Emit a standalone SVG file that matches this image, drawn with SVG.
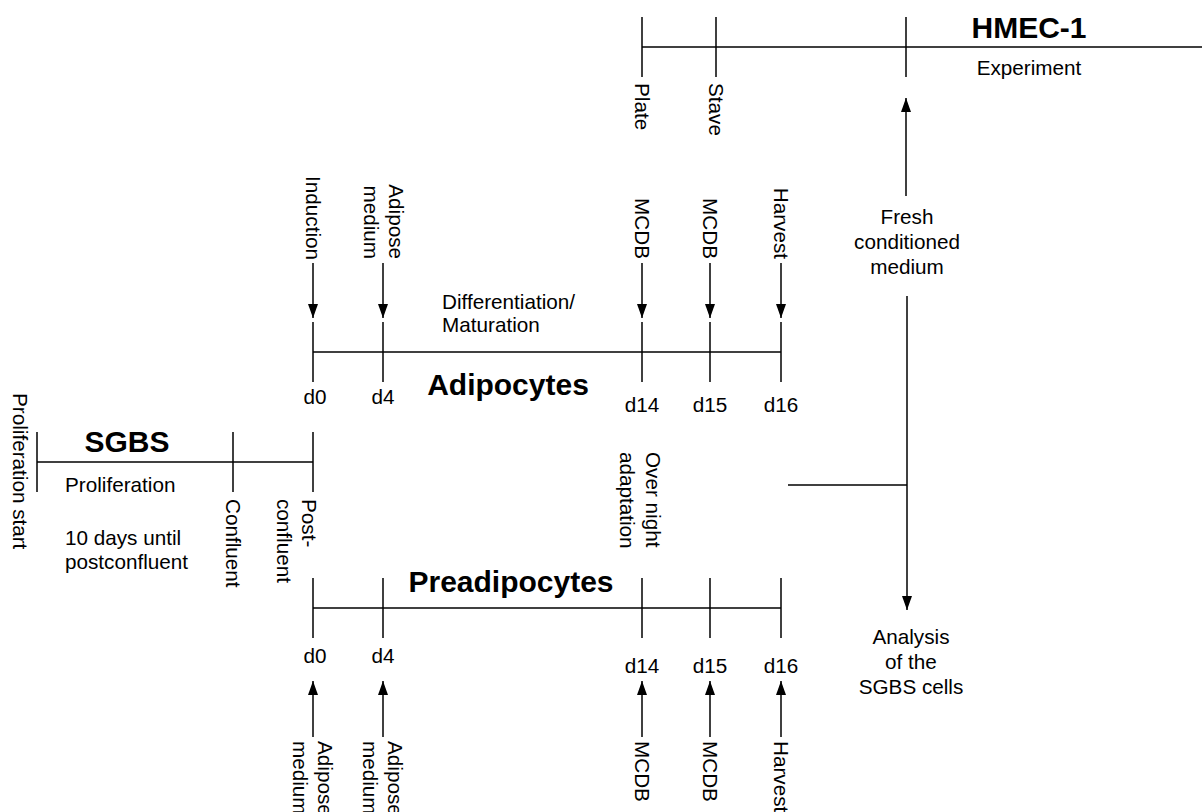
<svg xmlns="http://www.w3.org/2000/svg" width="1202" height="812" viewBox="0 0 1202 812">
<style>
  .ln { stroke:#000; stroke-width:1.5; fill:none; }
  .t { font-family:"Liberation Sans", Arial, sans-serif; font-size:20.7px; fill:#000; }
  .b { font-family:"Liberation Sans", Arial, sans-serif; font-size:30px; font-weight:bold; fill:#000; }
  .c { text-anchor:middle; }
  .e { text-anchor:end; }
</style>
<defs>
  <marker id="ah" viewBox="0 0 14 10" refX="14" refY="5" markerWidth="14" markerHeight="10" orient="auto" markerUnits="userSpaceOnUse">
    <path d="M0,0 L14,5 L0,10 z" fill="#000"/>
  </marker>
</defs>
<rect width="1202" height="812" fill="#fff"/>

<!-- HMEC-1 timeline -->
<g id="hmec">
  <line class="ln" x1="642" y1="47" x2="1202" y2="47"/>
  <line class="ln" x1="642" y1="17" x2="642" y2="77"/>
  <line class="ln" x1="716" y1="17" x2="716" y2="77"/>
  <line class="ln" x1="906" y1="17" x2="906" y2="77"/>
  <text class="b c" x="1029" y="38">HMEC-1</text>
  <text class="t c" x="1029" y="75">Experiment</text>
  <text class="t" transform="translate(635,83) rotate(90)">Plate</text>
  <text class="t" transform="translate(709,83) rotate(90)">Stave</text>
</g>

<!-- SGBS timeline -->
<g id="sgbs">
  <line class="ln" x1="37" y1="462" x2="313" y2="462"/>
  <line class="ln" x1="37" y1="432" x2="37" y2="492"/>
  <line class="ln" x1="233" y1="432" x2="233" y2="492"/>
  <line class="ln" x1="313" y1="432" x2="313" y2="492"/>
  <text class="b c" x="127" y="452">SGBS</text>
  <text class="t" x="65" y="492">Proliferation</text>
  <text class="t" x="65" y="545">10 days until</text>
  <text class="t" x="65" y="569">postconfluent</text>
  <text class="t" transform="translate(13,393) rotate(90)">Proliferation start</text>
  <text class="t" transform="translate(226,499) rotate(90)">Confluent</text>
  <text class="t" transform="translate(302,499) rotate(90)">Post-</text>
  <text class="t" transform="translate(277,499) rotate(90)">confluent</text>
</g>

<!-- Adipocytes timeline -->
<g id="adipocytes">
  <line class="ln" x1="313" y1="352" x2="781" y2="352"/>
  <line class="ln" x1="313" y1="322" x2="313" y2="382"/>
  <line class="ln" x1="383" y1="322" x2="383" y2="382"/>
  <line class="ln" x1="642" y1="322" x2="642" y2="382"/>
  <line class="ln" x1="710" y1="322" x2="710" y2="382"/>
  <line class="ln" x1="781" y1="322" x2="781" y2="382"/>
  <text class="b c" x="508" y="395">Adipocytes</text>
  <text class="t" x="442" y="309">Differentiation/</text>
  <text class="t" x="442" y="332">Maturation</text>
  <text class="t c" x="315" y="404">d0</text>
  <text class="t c" x="383" y="404">d4</text>
  <text class="t c" x="642" y="412">d14</text>
  <text class="t c" x="710" y="412">d15</text>
  <text class="t c" x="781" y="412">d16</text>
  <text class="t e" transform="translate(306,260) rotate(90)">Induction</text>
  <text class="t e" transform="translate(389,259) rotate(90)">Adipose</text>
  <text class="t e" transform="translate(364,259) rotate(90)">medium</text>
  <text class="t e" transform="translate(635,259) rotate(90)">MCDB</text>
  <text class="t e" transform="translate(703,259) rotate(90)">MCDB</text>
  <text class="t e" transform="translate(774,259) rotate(90)">Harvest</text>
</g>

<!-- Preadipocytes timeline -->
<g id="preadipocytes">
  <line class="ln" x1="313" y1="608" x2="781" y2="608"/>
  <line class="ln" x1="313" y1="578" x2="313" y2="638"/>
  <line class="ln" x1="383" y1="578" x2="383" y2="638"/>
  <line class="ln" x1="642" y1="578" x2="642" y2="638"/>
  <line class="ln" x1="710" y1="578" x2="710" y2="638"/>
  <line class="ln" x1="781" y1="578" x2="781" y2="638"/>
  <text class="b c" x="511" y="592">Preadipocytes</text>
  <text class="t c" x="315" y="663">d0</text>
  <text class="t c" x="383" y="663">d4</text>
  <text class="t c" x="642" y="673">d14</text>
  <text class="t c" x="710" y="673">d15</text>
  <text class="t c" x="781" y="673">d16</text>
  <text class="t" transform="translate(318,741) rotate(90)">Adipose</text>
  <text class="t" transform="translate(293,741) rotate(90)">medium</text>
  <text class="t" transform="translate(388,741) rotate(90)">Adipose</text>
  <text class="t" transform="translate(363,741) rotate(90)">medium</text>
  <text class="t" transform="translate(635,741) rotate(90)">MCDB</text>
  <text class="t" transform="translate(703,741) rotate(90)">MCDB</text>
  <text class="t" transform="translate(774,741) rotate(90)">Harvest</text>
</g>

<!-- Side labels -->
<g id="adaptation">
  <text class="t" transform="translate(646,452) rotate(90)">Over night</text>
  <text class="t" transform="translate(620,452) rotate(90)">adaptation</text>
</g>
<g id="fresh-medium">
  <text class="t c" x="907" y="224">Fresh</text>
  <text class="t c" x="907" y="249">conditioned</text>
  <text class="t c" x="907" y="274">medium</text>
</g>
<g id="analysis">
  <text class="t c" x="911" y="644">Analysis</text>
  <text class="t c" x="911" y="669">of the</text>
  <text class="t c" x="911" y="694">SGBS cells</text>
</g>

<!-- Connectors -->
<g id="connectors">
  <line class="ln" x1="313" y1="263" x2="313" y2="318" marker-end="url(#ah)"/>
  <line class="ln" x1="383" y1="263" x2="383" y2="318" marker-end="url(#ah)"/>
  <line class="ln" x1="642" y1="263" x2="642" y2="318" marker-end="url(#ah)"/>
  <line class="ln" x1="710" y1="263" x2="710" y2="318" marker-end="url(#ah)"/>
  <line class="ln" x1="781" y1="263" x2="781" y2="318" marker-end="url(#ah)"/>
  <line class="ln" x1="313" y1="737" x2="313" y2="681" marker-end="url(#ah)"/>
  <line class="ln" x1="383" y1="737" x2="383" y2="681" marker-end="url(#ah)"/>
  <line class="ln" x1="642" y1="737" x2="642" y2="681" marker-end="url(#ah)"/>
  <line class="ln" x1="710" y1="737" x2="710" y2="681" marker-end="url(#ah)"/>
  <line class="ln" x1="781" y1="737" x2="781" y2="681" marker-end="url(#ah)"/>
  <line class="ln" x1="906" y1="196" x2="906" y2="98" marker-end="url(#ah)"/>
  <line class="ln" x1="907" y1="296" x2="907" y2="610" marker-end="url(#ah)"/>
  <line class="ln" x1="788" y1="485" x2="907" y2="485"/>
</g>
</svg>
